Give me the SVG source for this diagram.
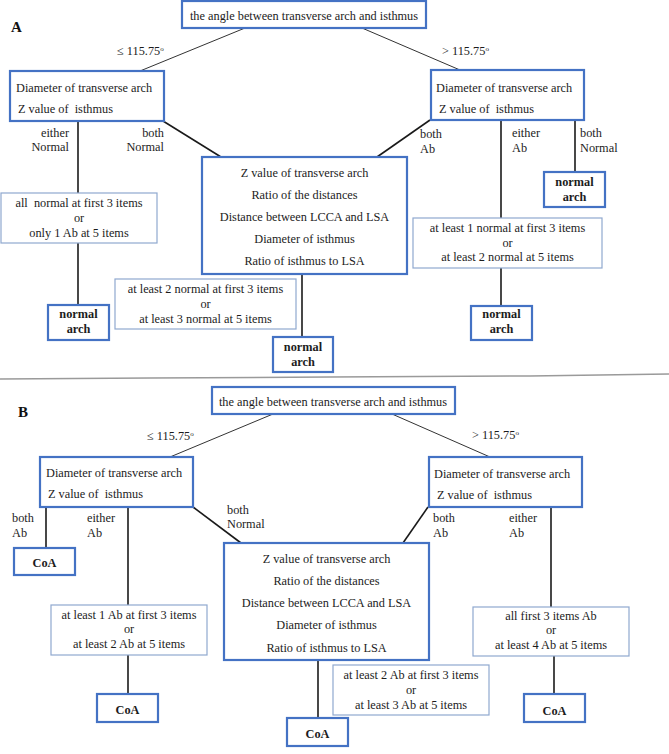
<svg xmlns="http://www.w3.org/2000/svg" width="669" height="754" viewBox="0 0 669 754">
<style>
.box{fill:#fff;stroke:#4472C4;stroke-width:2.2}
.rule{fill:#fff;stroke:#8FA8CF;stroke-width:1.2}
.t{font-family:"Liberation Serif","Times New Roman",serif;font-size:12.3px;fill:#1c1c1c}
.c{text-anchor:middle}
.e{text-anchor:end}
.b{font-weight:bold}
.p{font-family:"Liberation Serif","Times New Roman",serif;font-size:15px;font-weight:bold;fill:#111}
.thin{stroke:#333;stroke-width:1;fill:none}
.conn{stroke:#1a1a1a;stroke-width:1.6;fill:none}
.sep{stroke:#9a9a9a;stroke-width:1.5;fill:none}
.sup{font-size:7px}
</style>
<rect width="669" height="754" fill="#fff"/>
<text class="p" x="11" y="32">A</text>
<text class="p" x="18" y="417">B</text>
<polyline class="sep" points="0,379 150,378 330,377 530,376 669,374"/>
<g id="connectors">
<line class="thin" x1="245" y1="28" x2="140" y2="71"/>
<line class="thin" x1="362" y1="28" x2="460" y2="70"/>
<line class="conn" x1="78" y1="121" x2="78" y2="193"/>
<line class="conn" x1="78" y1="243" x2="78" y2="305"/>
<line class="conn" x1="163" y1="121" x2="221" y2="157"/>
<line class="conn" x1="302" y1="274" x2="302" y2="337"/>
<line class="conn" x1="430" y1="120" x2="377" y2="157"/>
<line class="conn" x1="501" y1="120" x2="501" y2="218"/>
<line class="conn" x1="501" y1="268" x2="501" y2="306"/>
<line class="conn" x1="575" y1="120" x2="575" y2="172"/>
<line class="thin" x1="273" y1="414" x2="170" y2="457"/>
<line class="thin" x1="392" y1="414" x2="490" y2="457"/>
<line class="conn" x1="46" y1="507" x2="46" y2="548"/>
<line class="conn" x1="128" y1="507" x2="128" y2="605"/>
<line class="conn" x1="128" y1="655" x2="128" y2="694"/>
<line class="conn" x1="193" y1="507" x2="241" y2="543"/>
<line class="conn" x1="318" y1="660" x2="318" y2="718"/>
<line class="conn" x1="428" y1="507" x2="403" y2="543"/>
<line class="conn" x1="551" y1="507" x2="551" y2="607"/>
<line class="conn" x1="554" y1="656" x2="554" y2="694"/>
</g>
<g id="labels">
<text class="t" x="117" y="55">≤ 115.75<tspan class="sup" dy="-4">o</tspan></text>
<text class="t" x="442" y="55">&gt; 115.75<tspan class="sup" dy="-4">o</tspan></text>
<text class="t e" x="69" y="137">either</text>
<text class="t e" x="69" y="151">Normal</text>
<text class="t e" x="164" y="137">both</text>
<text class="t e" x="164" y="151">Normal</text>
<text class="t" x="420" y="138">both</text>
<text class="t" x="420" y="153">Ab</text>
<text class="t" x="512" y="137">either</text>
<text class="t" x="512" y="152">Ab</text>
<text class="t" x="580" y="137">both</text>
<text class="t" x="580" y="152">Normal</text>
<text class="t" x="147" y="440">≤ 115.75<tspan class="sup" dy="-4">o</tspan></text>
<text class="t" x="472" y="439">&gt; 115.75<tspan class="sup" dy="-4">o</tspan></text>
<text class="t" x="12" y="522">both</text>
<text class="t" x="12" y="537">Ab</text>
<text class="t" x="87" y="522">either</text>
<text class="t" x="87" y="537">Ab</text>
<text class="t" x="227" y="514">both</text>
<text class="t" x="227" y="528">Normal</text>
<text class="t" x="433" y="522">both</text>
<text class="t" x="433" y="537">Ab</text>
<text class="t" x="509" y="522">either</text>
<text class="t" x="509" y="537">Ab</text>
</g>
<g id="A-top"><rect class="box" x="182" y="1" width="244" height="27"/><text class="t c" x="304" y="20">the angle between transverse arch and isthmus</text></g>
<g id="A-left"><rect class="box" x="10" y="71" width="154" height="50"/><text class="t" x="16" y="92">Diameter of transverse arch</text><text class="t" x="18" y="113" xml:space="preserve">Z value of  isthmus</text></g>
<g id="A-right"><rect class="box" x="431" y="70" width="153" height="50"/><text class="t" x="436" y="92">Diameter of transverse arch</text><text class="t" x="439" y="113" xml:space="preserve">Z value of  isthmus</text></g>
<g id="A-center"><rect class="box" x="202" y="157" width="205" height="117"/>
<text class="t c" x="304.5" y="177">Z value of transverse arch</text>
<text class="t c" x="304.5" y="199">Ratio of the distances</text>
<text class="t c" x="304.5" y="221">Distance between LCCA and LSA</text>
<text class="t c" x="304.5" y="243">Diameter of isthmus</text>
<text class="t c" x="304.5" y="265">Ratio of isthmus to LSA</text></g>
<g id="A-rule-left"><rect class="rule" x="1" y="193" width="156" height="50"/>
<text class="t c" x="79" y="207" xml:space="preserve">all  normal at first 3 items</text>
<text class="t c" x="79" y="222">or</text>
<text class="t c" x="79" y="237">only 1 Ab at 5 items</text></g>
<g id="A-normal-left"><rect class="box" x="48" y="305" width="61" height="35"/><text class="t c b" x="78.5" y="318">normal</text><text class="t c b" x="78.5" y="333">arch</text></g>
<g id="A-rule-center"><rect class="rule" x="115" y="279" width="181" height="50"/>
<text class="t c" x="205.5" y="293">at least 2 normal at first 3 items</text>
<text class="t c" x="205.5" y="308">or</text>
<text class="t c" x="205.5" y="323">at least 3 normal at 5 items</text></g>
<g id="A-normal-center"><rect class="box" x="273" y="337" width="60" height="35"/><text class="t c b" x="303" y="351">normal</text><text class="t c b" x="303" y="366">arch</text></g>
<g id="A-rule-right"><rect class="rule" x="413" y="218" width="189" height="50"/>
<text class="t c" x="507.5" y="232">at least 1 normal at first 3 items</text>
<text class="t c" x="507.5" y="247">or</text>
<text class="t c" x="507.5" y="261">at least 2 normal at 5 items</text></g>
<g id="A-normal-right"><rect class="box" x="471" y="306" width="61" height="34"/><text class="t c b" x="501.5" y="318">normal</text><text class="t c b" x="501.5" y="333">arch</text></g>
<g id="A-normal-far"><rect class="box" x="544" y="172" width="61" height="35"/><text class="t c b" x="574.5" y="186">normal</text><text class="t c b" x="574.5" y="201">arch</text></g>
<g id="B-top"><rect class="box" x="212" y="387" width="243" height="27"/><text class="t c" x="333" y="406">the angle between transverse arch and isthmus</text></g>
<g id="B-left"><rect class="box" x="40" y="457" width="153" height="50"/><text class="t" x="46" y="477">Diameter of transverse arch</text><text class="t" x="48" y="498" xml:space="preserve">Z value of  isthmus</text></g>
<g id="B-right"><rect class="box" x="429" y="457" width="153" height="50"/><text class="t" x="434" y="478">Diameter of transverse arch</text><text class="t" x="437" y="499" xml:space="preserve">Z value of  isthmus</text></g>
<g id="B-center"><rect class="box" x="224" y="543" width="205" height="117"/>
<text class="t c" x="326.5" y="563">Z value of transverse arch</text>
<text class="t c" x="326.5" y="585">Ratio of the distances</text>
<text class="t c" x="326.5" y="607">Distance between LCCA and LSA</text>
<text class="t c" x="326.5" y="629">Diameter of isthmus</text>
<text class="t c" x="326.5" y="652">Ratio of isthmus to LSA</text></g>
<g id="B-coa-1"><rect class="box" x="14" y="548" width="61" height="27"/><text class="t c b" x="44.5" y="567">CoA</text></g>
<g id="B-rule-left"><rect class="rule" x="51" y="605" width="156" height="50"/>
<text class="t c" x="129" y="619">at least 1 Ab at first 3 items</text>
<text class="t c" x="129" y="633">or</text>
<text class="t c" x="129" y="648">at least 2 Ab at 5 items</text></g>
<g id="B-coa-2"><rect class="box" x="97" y="694" width="61" height="28"/><text class="t c b" x="127.5" y="714">CoA</text></g>
<g id="B-rule-center"><rect class="rule" x="333" y="665" width="156" height="50"/>
<text class="t c" x="411" y="679">at least 2 Ab at first 3 items</text>
<text class="t c" x="411" y="694">or</text>
<text class="t c" x="411" y="709">at least 3 Ab at 5 items</text></g>
<g id="B-coa-3"><rect class="box" x="287" y="718" width="61" height="28"/><text class="t c b" x="317.5" y="738">CoA</text></g>
<g id="B-rule-right"><rect class="rule" x="473" y="607" width="156" height="49"/>
<text class="t c" x="551" y="620">all first 3 items Ab</text>
<text class="t c" x="551" y="634">or</text>
<text class="t c" x="551" y="649">at least 4 Ab at 5 items</text></g>
<g id="B-coa-4"><rect class="box" x="524" y="694" width="61" height="28"/><text class="t c b" x="554.5" y="715">CoA</text></g>
</svg>
